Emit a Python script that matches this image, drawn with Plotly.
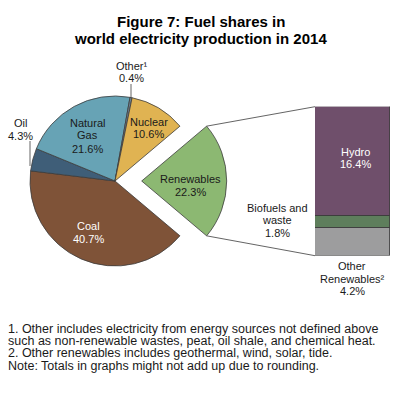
import math
import plotly.graph_objects as go

W, H = 400, 396

# ---- data ----
pie_labels = ["Renewables", "Coal", "Oil", "Natural Gas", "Other", "Nuclear"]
pie_values = [22.3, 40.7, 4.3, 21.6, 0.4, 10.6]
pie_colors = ["#8cb872", "#7f5338", "#3f5e78", "#67a3b5", "#6d8091", "#e0b352"]

ren_labels = ["Other Renewables", "Biofuels and waste", "Hydro"]
ren_values = [4.2, 1.8, 16.4]
ren_colors = ["#9d9d9e", "#5e7e5c", "#6f4f6b"]

title_lines = ["Figure 7: Fuel shares in", "world electricity production in 2014"]
footnotes = [
    "1. Other includes electricity from energy sources not defined above",
    "such as non-renewable wastes, peat, oil shale, and chemical heat.",
    "2. Other renewables includes geothermal, wind, solar, tide.",
]
note = "Note: Totals in graphs might not add up due to rounding."

FONT = "Liberation Sans, Arial, Helvetica, sans-serif"
TXT = "#1a1a1a"
EDGE = "#3c3c3c"

# ---- geometry (pixels) ----
cx, cy, R = 115, 181, 85
pull = 0.314
D = 2 * R * (1 + pull)

def px(x):
    return x / W

def py(y):
    return 1 - y / H

total = sum(pie_values)
ren_angle = pie_values[0] / total * 360.0
rotation = 90 - ren_angle / 2

fig = go.Figure()
fig.add_trace(go.Pie(
    labels=pie_labels, values=pie_values, sort=False, direction="clockwise",
    rotation=rotation, pull=[pull, 0, 0, 0, 0, 0],
    marker=dict(colors=pie_colors, line=dict(color=EDGE, width=0.8)),
    textinfo="none", hoverinfo="label+value", showlegend=False,
    domain=dict(x=[px(cx - D / 2), px(cx + D / 2)], y=[py(cy + D / 2), py(cy - D / 2)]),
))

bar_x0, bar_x1 = 315, 390
bar_top, bar_bot = 106.7, 255.7
for lab, val, col in zip(ren_labels, ren_values, ren_colors):
    fig.add_trace(go.Bar(
        x=[0], y=[val], name=lab, width=1,
        marker=dict(color=col, line=dict(color=EDGE, width=0.8)),
        showlegend=False, hoverinfo="name+y",
    ))

# connector lines from exploded slice to bar
half = math.radians(ren_angle / 2)
pcx = cx + pull * R
tx, ty = pcx + R * math.cos(half), cy - R * math.sin(half)
bx, by = pcx + R * math.cos(half), cy + R * math.sin(half)
shapes = [
    dict(type="line", xref="paper", yref="paper", x0=px(tx), y0=py(ty),
         x1=px(bar_x0), y1=py(bar_top), line=dict(color=EDGE, width=0.8)),
    dict(type="line", xref="paper", yref="paper", x0=px(bx), y0=py(by),
         x1=px(bar_x0), y1=py(bar_bot), line=dict(color=EDGE, width=0.8)),
    # leader lines
    dict(type="line", xref="paper", yref="paper", x0=px(131), y0=py(84),
         x1=px(131), y1=py(97.5), line=dict(color=EDGE, width=0.8)),
    dict(type="line", xref="paper", yref="paper", x0=px(30), y0=py(141),
         x1=px(30), y1=py(166), line=dict(color=EDGE, width=0.8)),
]

annotations = []

def label(x, ys, lines, color=TXT, size=11, bold=False, anchor="center"):
    for yy, t in zip(ys, lines):
        annotations.append(dict(
            x=px(x), y=py(yy), xref="paper", yref="paper", text=("<b>%s</b>" % t) if bold else t,
            showarrow=False, xanchor=anchor, yanchor="middle",
            font=dict(family=FONT, size=size, color=color),
        ))

label(201, [21.5, 38.5], title_lines, color="#000000", size=15, bold=True)
label(131.5, [65.5, 78.5], ["Other¹", "0.4%"])
label(20, [123.3, 135.7], ["Oil", "4.3%"])
label(87, [123, 135.5, 148.5], ["Natural", "Gas", "21.6%"])
label(148.5, [122, 134], ["Nuclear", "10.6%"])
label(190, [179, 192], ["Renewables", "22.3%"])
label(88, [226, 238.5], ["Coal", "40.7%"], color="#ffffff")
label(355, [151.5, 164], ["Hydro", "16.4%"], color="#ffffff")
label(277, [208, 220, 233], ["Biofuels and", "waste", "1.8%"])
label(352, [265.5, 278.5, 291], ["Other", "Renewables²", "4.2%"])
label(6, [329, 341, 353], footnotes, size=12.5, anchor="left")
label(6, [366], [note], size=12.5, anchor="left")

fig.update_layout(
    width=W, height=H, margin=dict(l=0, r=0, t=0, b=0),
    paper_bgcolor="white", plot_bgcolor="rgba(0,0,0,0)",
    barmode="stack", bargap=0,
    xaxis=dict(domain=[px(bar_x0), px(bar_x1)], range=[-0.5, 0.5], visible=False, fixedrange=True),
    yaxis=dict(domain=[py(bar_bot), py(bar_top)], range=[0, sum(ren_values)], visible=False, fixedrange=True),
    shapes=shapes, annotations=annotations,
    font=dict(family=FONT),
)

fig.write_html("out.html", config={"displayModeBar": False},
               post_script="document.body.style.margin='0';")
